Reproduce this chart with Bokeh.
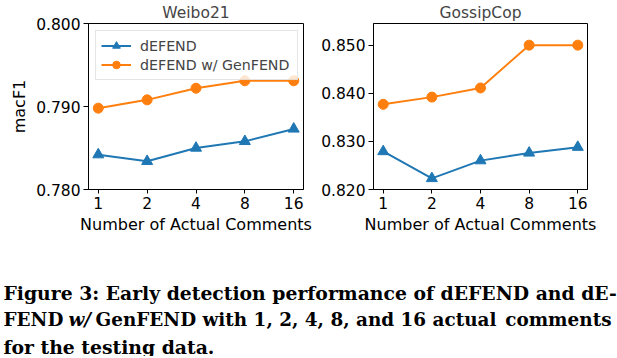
from bokeh.plotting import figure
from bokeh.models import Range1d, FixedTicker, PrintfTickFormatter
from bokeh.layouts import column, row
from bokeh.core.properties import value
from bokeh.embed import file_html
from bokeh.resources import INLINE

# ---- data ----
comments = ["1", "2", "4", "8", "16"]
weibo_defend = [0.7842, 0.7834, 0.7850, 0.7858, 0.7873]
weibo_genfend = [0.7898, 0.7908, 0.7922, 0.7931, 0.7931]
gossip_defend = [0.8279, 0.8223, 0.8260, 0.8276, 0.8288]
gossip_genfend = [0.8377, 0.8392, 0.8411, 0.8500, 0.8500]
weibo_yticks = [0.780, 0.790, 0.800]
gossip_yticks = [0.820, 0.830, 0.840, 0.850]
series_names = ["dEFEND", "dEFEND w/ GenFEND"]
caption_line1 = "Figure 3: Early detection performance of dEFEND and dE-"
caption_line2 = ["FEND", "w/", "GenFEND with 1, 2, 4, 8, and 16 actual", "comments"]
caption_line3 = "for the testing data."

BLUE = "#1f77b4"
ORANGE = "#ff7f0e"
FONT = "DejaVu Sans"


def panel(title, d1, d2, yr, yticks, width, left, right, ylabel=None, legend=False):
    xs = list(range(len(comments)))
    p = figure(width=width, height=240, x_range=Range1d(-0.2, len(comments) - 0.8),
               y_range=Range1d(*yr), toolbar_location=None, output_backend="svg",
               min_border_left=left, min_border_right=right, min_border_top=23,
               min_border_bottom=51, title=title)
    p.title.text_font = FONT
    p.title.text_font_size = "15.5px"
    p.title.text_font_style = "normal"
    p.title.align = "center"
    p.title.standoff = 3
    p.grid.visible = False
    p.outline_line_color = "black"
    p.outline_line_width = 1
    p.background_fill_color = "white"
    p.border_fill_color = "white"

    p.xaxis.ticker = FixedTicker(ticks=xs)
    p.xaxis.major_label_overrides = {i: c for i, c in enumerate(comments)}
    p.yaxis.ticker = FixedTicker(ticks=yticks)
    p.yaxis.formatter = PrintfTickFormatter(format="%.3f")
    for ax in (p.xaxis[0], p.yaxis[0]):
        ax.minor_tick_line_color = None
        ax.axis_line_color = "black"
        ax.major_tick_line_color = "black"
        ax.major_tick_in = 0
        ax.major_label_text_font = FONT
        ax.major_label_text_font_size = "15.5px"
        ax.major_label_text_color = "black"
        ax.major_label_standoff = 3
        ax.axis_label_text_font = FONT
        ax.axis_label_text_font_size = "16px"
        ax.axis_label_text_font_style = "normal"
        ax.axis_label_text_color = "black"
    p.xaxis.major_tick_out = 4
    p.yaxis.major_tick_out = 5
    p.xaxis.axis_label = "Number of Actual Comments"
    p.xaxis.axis_label_standoff = 3
    if ylabel:
        p.yaxis.axis_label = ylabel
        p.yaxis.axis_label_standoff = 4

    kw1 = dict(legend_label=series_names[0]) if legend else {}
    kw2 = dict(legend_label=series_names[1]) if legend else {}
    p.line(xs, d1, line_color=BLUE, line_width=2, **kw1)
    p.scatter(xs, d1, marker="triangle", size=11, color=BLUE, **kw1)
    p.line(xs, d2, line_color=ORANGE, line_width=2, **kw2)
    p.scatter(xs, d2, marker="circle", size=10, color=ORANGE, **kw2)
    if legend:
        lg = p.legend[0]
        lg.location = "top_left"
        lg.margin = 7
        lg.padding = 5
        lg.spacing = 0
        lg.glyph_width = 30
        lg.glyph_height = 19
        lg.label_height = 19
        lg.label_width = 152
        lg.label_standoff = 9
        lg.label_text_font = FONT
        lg.label_text_font_size = "14.2px"
        lg.border_line_color = "#cccccc"
        lg.background_fill_alpha = 0.8
    return p


p1 = panel("Weibo21", weibo_defend, weibo_genfend, (0.780, 0.800), weibo_yticks,
           318, 88, 15, ylabel="macF1", legend=True)
p2 = panel("GossipCop", gossip_defend, gossip_genfend, (0.820, 0.8545), gossip_yticks,
           299, 55, 30)

cap = figure(width=617, height=116, x_range=Range1d(0, 617), y_range=Range1d(116, 0),
             toolbar_location=None, output_backend="svg", min_border=0,
             x_axis_location=None, y_axis_location=None)
cap.grid.visible = False
cap.outline_line_color = None
cap.border_fill_color = "white"
SERIF = value("DejaVu Serif")
common = dict(text_font=SERIF, text_color="black", text_baseline="alphabetic")
cap.text(x=[3, 3], y=[52.7, 106], text=[caption_line1, caption_line3],
         text_font_style="bold", text_font_size="18.8px", **common)
cap.text(x=[3, 95], y=[79.3, 79.3], text=[caption_line2[0], caption_line2[2]],
         text_font_style="bold", text_font_size="18.4px", **common)
cap.text(x=[611], y=[79.3], text=[caption_line2[3]], text_align="right",
         text_font_style="bold", text_font_size="18.4px", **common)
cap.text(x=[68], y=[79.3], text=[caption_line2[1]],
         text_font_style="bold italic", text_font_size="18.4px", **common)

layout = column(row(p1, p2), cap)
open("out.html", "w").write(file_html(layout, INLINE))
